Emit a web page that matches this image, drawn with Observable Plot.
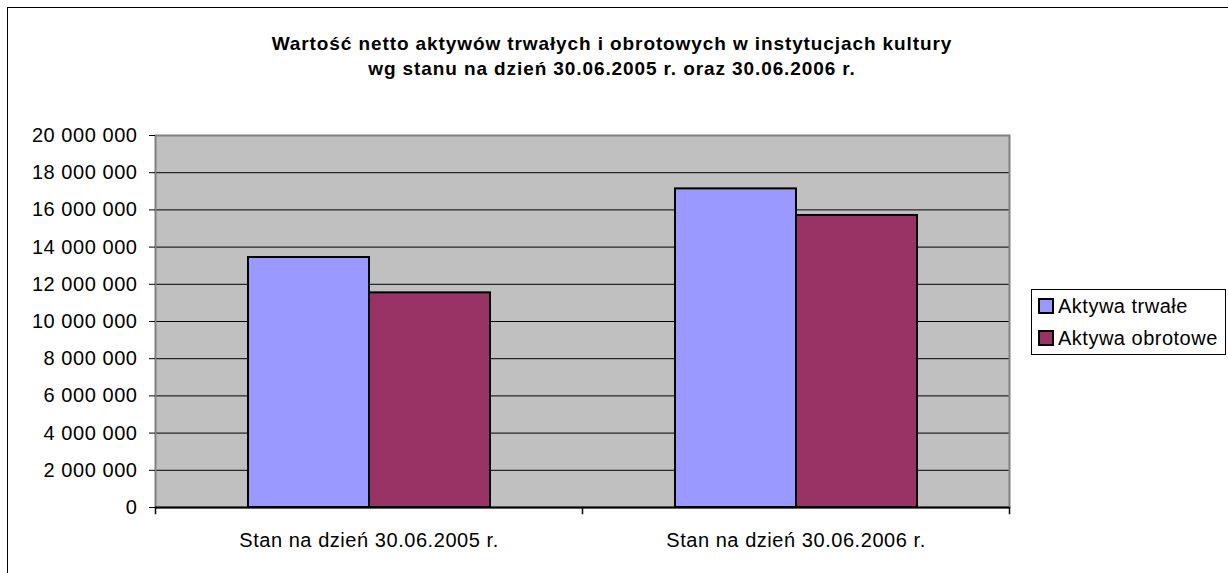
<!DOCTYPE html>
<html>
<head>
<meta charset="utf-8">
<script src="https://cdn.jsdelivr.net/npm/d3@7"></script>
<script src="https://cdn.jsdelivr.net/npm/@observablehq/plot@0.6"></script>
<style>
  html, body { margin: 0; padding: 0; background: #fff; overflow: hidden; width: 1228px; height: 573px; }
  body { position: relative; font-family: "Liberation Sans", Arial, sans-serif; }
  #border { position: absolute; left: 7px; top: 7px; width: 1400px; height: 800px; border: 1px solid #000; }
  #title { position: absolute; left: 0; top: 31px; width: 1224px; text-align: center; font-weight: bold; font-size: 19px; line-height: 25px; letter-spacing: 0.9px; color: #000; }
  #chart { position: absolute; left: 0; top: 120px; }
  #legend { position: absolute; left: 1031px; top: 289px; width: 195px; height: 66px; border: 1px solid #000; box-sizing: border-box; background: #fff; font-size: 20px; letter-spacing: 0.5px; }
  .item { display: flex; align-items: center; height: 32px; padding-left: 6px; }
  .sw { width: 12px; height: 12px; border: 2px solid #000; margin-right: 4px; }
</style>
</head>
<body>
<div id="border"></div>
<div id="title">Wartość netto aktywów trwałych i obrotowych w instytucjach kultury<br>wg stanu na dzień 30.06.2005 r. oraz 30.06.2006 r.</div>
<div id="chart"></div>
<div id="legend"></div>
<script>
const categories = ["Stan na dzień 30.06.2005 r.", "Stan na dzień 30.06.2006 r."];
const seriesNames = ["Aktywa trwałe", "Aktywa obrotowe"];
const trwale = [13440000, 17130000];
const obrotowe = [11540000, 15700000];
const colors = ["#9999FF", "#993366"];
const yTicks = [0, 2000000, 4000000, 6000000, 8000000, 10000000, 12000000, 14000000, 16000000, 18000000, 20000000];

const data = [];
categories.forEach((c, i) => {
  data.push({category: c, series: seriesNames[0], value: trwale[i]});
  data.push({category: c, series: seriesNames[1], value: obrotowe[i]});
});

const fmt = d => d3.format(",")(d).replace(/,/g, " ");
const innerH = 372;

const plot = Plot.plot({
  width: 1228,
  height: 453,
  marginTop: 15,
  marginBottom: 66,
  marginLeft: 155,
  marginRight: 219,
  style: {fontFamily: "'Liberation Sans', Arial, sans-serif", fontSize: "20px", letterSpacing: "0.55px", color: "#000", background: "transparent"},
  fx: {domain: categories, padding: 0, label: null},
  x: {domain: seriesNames, paddingInner: 0, paddingOuter: 0.752, axis: null},
  y: {domain: [0, 20000000], label: null},
  color: {domain: seriesNames, range: colors},
  marks: [
    Plot.frame({facet: "super", fill: "#C0C0C0"}),
    Plot.gridY(yTicks, {stroke: "#000", strokeOpacity: 1, strokeWidth: 1}),
    Plot.frame({facet: "super", stroke: "#808080", strokeWidth: 2}),
    Plot.barY(data, {fx: "category", x: "series", y: "value", fill: "series", stroke: "#000", strokeWidth: 2}),
    Plot.ruleY([0], {stroke: "#000", strokeWidth: 2}),
    Plot.frame({anchor: "left", stroke: "#000", strokeWidth: 1.5, insetTop: innerH, insetBottom: -6}),
    Plot.frame({anchor: "right", facetAnchor: "right", stroke: "#000", strokeWidth: 1.5, insetTop: innerH, insetBottom: -6}),
    Plot.axisY(yTicks, {tickFormat: fmt, tickSize: 6, tickPadding: 12, stroke: "#000", label: null, fontSize: 20}),
    Plot.axisFx({anchor: "bottom", tickSize: 0, tickPadding: 25, label: null, fontSize: 20})
  ]
});
document.getElementById("chart").appendChild(plot);

const legend = document.getElementById("legend");
seriesNames.forEach((s, i) => {
  const it = document.createElement("div");
  it.className = "item";
  const sw = document.createElement("div");
  sw.className = "sw";
  sw.style.background = colors[i];
  const t = document.createElement("span");
  t.textContent = s;
  it.appendChild(sw);
  it.appendChild(t);
  legend.appendChild(it);
});
</script>
</body>
</html>
